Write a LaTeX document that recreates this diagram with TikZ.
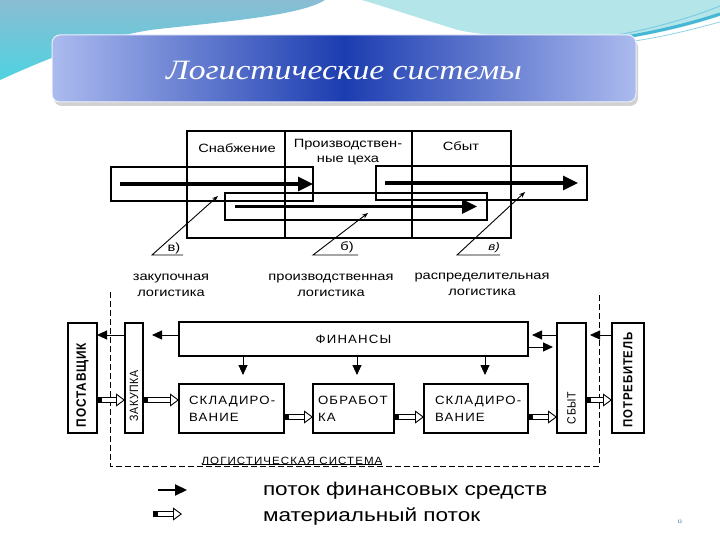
\documentclass[tikz,border=0pt]{standalone}
\usepackage{fontspec}
\usetikzlibrary{arrows.meta}
\newfontfamily\dfont{Liberation Sans}[FakeStretch=1.22]
\newfontfamily\capfont{Liberation Sans}[FakeStretch=1.1,LetterSpace=10]
\newfontfamily\rotfont{Liberation Sans}[FakeStretch=0.88,LetterSpace=6]
\newfontfamily\titlefont{Liberation Serif}[FakeStretch=1.2]
\definecolor{bandL}{HTML}{ABBAEE}
\definecolor{bandM}{HTML}{1C3DB0}
\definecolor{skyA}{HTML}{8ABDD3}
\definecolor{skyB}{HTML}{4FD2E0}
\definecolor{cyanL}{HTML}{B4E5E8}
\definecolor{strokeC}{HTML}{45B6D4}
\definecolor{pgnum}{HTML}{5A7AA0}
\begin{document}
\begin{tikzpicture}[x=1pt,y=-1pt,
  every node/.style={inner sep=0pt, outer sep=0pt},
  cell/.style={draw, line width=2.4pt, minimum width=#1, minimum height=107pt},
  hdr/.style={font=\dfont\fontsize{12}{15}\selectfont, align=center},
  band/.style={draw, line width=1.2pt},
  bigarr/.style={line width=3.2pt, -{Triangle[length=15pt,width=14pt]}},
  ptr/.style={line width=0.9pt, -{Stealth[length=6pt,width=4.5pt]}},
  box/.style={draw, line width=1.3pt},
  captxt/.style={font=\capfont\fontsize{12}{17}\selectfont, align=left},
  rottxt/.style={font=\rotfont\fontsize{12}{14}\selectfont, rotate=90},
  finarr/.style={line width=0.9pt, -{Triangle[length=10pt,width=9pt]}},
  matarr/.style={draw=white, line width=0.8pt, shorten <=4.5pt,
    -{Triangle[open,length=9pt,width=13pt,line width=0.9pt,color=black]},
    preaction={draw=black, arrows=-, line width=5.4pt, shorten >=9pt, shorten <=0pt},
    preaction={draw=white, arrows=-, line width=3.6pt, shorten >=9pt, shorten <=4.5pt}},
  dashline/.style={line width=1pt, dash pattern=on 6pt off 3pt}
]
\useasboundingbox (0,0) rectangle (720,540);
\fill[white] (0,0) rectangle (720,540);
% background swooshes
\shade[top color=skyA, bottom color=skyB] (0,0) -- (325,0) .. controls (300,16) and (220,22) .. (150,30) .. controls (90,40) and (40,62) .. (0,80) -- cycle;
\fill[cyanL] (362,0) -- (720,0) -- (720,16) .. controls (690,26) and (650,36) .. (610,40) .. controls (540,40) and (485,36) .. (458,30) .. controls (425,20) and (392,9) .. (362,0) -- cycle;
\draw[strokeC, line width=3pt] (720,14) .. controls (690,24) and (650,34) .. (595,42);
\draw[strokeC!70, line width=1pt] (720,6) .. controls (690,18) and (650,30) .. (600,38);
\draw[strokeC!60, line width=0.8pt] (720,22) .. controls (690,30) and (660,38) .. (620,43);
% banner
\fill[black!40, opacity=0.45, rounded corners=8pt] (54,39) rectangle (638,106);
\shade[rounded corners=8pt, left color=bandL, right color=bandL, middle color=bandM] (52,35) rectangle (636,102);
\draw[white!80!bandL, line width=1pt, rounded corners=8pt] (52,35) rectangle (636,102);
\node[text=white, font=\titlefont\itshape\fontsize{28}{30}\selectfont] (title) at (344,70) {Логистические системы};

% ===== top diagram =====
\node[cell=98pt] (c1) at (236,184.5) {};
\node[cell=127pt] (c2) at (348.5,184.5) {};
\node[cell=99pt] (c3) at (461.5,184.5) {};
\node[hdr] (h1) at (237,148) {Снабжение};
\node[hdr] (h2) at (348,152) {Производствен-\\ные цеха};
\node[hdr] (h3) at (461,146) {Сбыт};
\node[band, minimum width=202pt, minimum height=34pt] (b1) at (212,184) {};
\node[band, minimum width=262pt, minimum height=27pt] (b2) at (356,206.5) {};
\node[band, minimum width=211pt, minimum height=34pt] (b3) at (481.5,183) {};
\draw[bigarr] ([xshift=9pt]b1.west) -- (b1.east);
\draw[bigarr] ([xshift=10pt]b2.west) -- ([xshift=-10pt]b2.east);
\draw[bigarr] ([xshift=9pt]b3.west) -- ([xshift=-9pt]b3.east);
\coordinate (pa1) at (152,255); \coordinate (pa2) at (183,255); \coordinate (pat) at (218,196);
\coordinate (pb1) at (313,255); \coordinate (pb2) at (358,255); \coordinate (pbt) at (368,213);
\coordinate (pc1) at (457,255); \coordinate (pc2) at (500,255); \coordinate (pct) at (525,192);
\draw[ptr] (pa2) -- (pa1) -- (pat);
\draw[ptr] (pb2) -- (pb1) -- (pbt);
\draw[ptr] (pc2) -- (pc1) -- (pct);
\node[hdr] (la) at (174,248) {в)};
\node[hdr] (lb) at (347,247) {б)};
\node[hdr, font=\dfont\itshape\fontsize{11}{13}\selectfont] (lc) at (494,248) {в)};
\node[hdr, font=\dfont\fontsize{12}{16}\selectfont] (t1) at (171,285) {закупочная\\логистика};
\node[hdr, font=\dfont\fontsize{12}{16}\selectfont] (t2) at (331,285) {производственная\\логистика};
\node[hdr, font=\dfont\fontsize{12}{16}\selectfont] (t3) at (482,284) {распределительная\\логистика};

% ===== bottom diagram =====
\coordinate (d1) at (110,292); \coordinate (d2) at (110,466);
\coordinate (d3) at (599,466); \coordinate (d4) at (599,292);
\draw[dashline] (d1) -- (d2) -- (d3) -- (d4);
\node[box, minimum width=29pt, minimum height=110pt] (post) at (82.5,378) {};
\node[box, minimum width=18pt, minimum height=110pt] (zak) at (134,378) {};
\node[box, minimum width=349pt, minimum height=34pt] (fin) at (353.5,339) {};
\node[box, minimum width=105pt, minimum height=49pt] (sk1) at (231.5,408.5) {};
\node[box, minimum width=81pt, minimum height=49pt] (obr) at (353.5,408.5) {};
\node[box, minimum width=104pt, minimum height=49pt] (sk2) at (476,408.5) {};
\node[box, minimum width=29pt, minimum height=110pt] (sbyt) at (571.5,378) {};
\node[box, minimum width=32pt, minimum height=110pt] (potr) at (628,378) {};
\node[rottxt, font=\rotfont\bfseries\fontsize{13.5}{14}\selectfont] (postt) at ([yshift=-7pt]post.center) {ПОСТАВЩИК};
\node[rottxt] (zakt) at ([yshift=-18pt]zak.center) {ЗАКУПКА};
\node[rottxt] (sbytt) at ([yshift=-30pt]sbyt.center) {СБЫТ};
\node[rottxt, font=\rotfont\bfseries\fontsize{13}{14}\selectfont] (potrt) at ([yshift=-2pt]potr.center) {ПОТРЕБИТЕЛЬ};
\node[captxt] (fint) at (fin.center) {ФИНАНСЫ};
\node[captxt, anchor=west] (sk1t) at ([xshift=10pt]sk1.west) {СКЛАДИРО-\\ВАНИЕ};
\node[captxt, anchor=west] (obrt) at ([xshift=5pt]obr.west) {ОБРАБОТ\\КА};
\node[captxt, anchor=west] (sk2t) at ([xshift=11pt]sk2.west) {СКЛАДИРО-\\ВАНИЕ};
\node[font=\capfont\fontsize{10.5}{12}\selectfont, anchor=base] (lst) at (292,464) {ЛОГИСТИЧЕСКАЯ СИСТЕМА};
\draw[line width=0.9pt] (lst.south west) -- (lst.south east);
% financial flows
\draw[finarr, shorten >=9pt] ([yshift=4pt]fin.west) -- ([yshift=4pt]fin.west -| zak.east);
\draw[finarr] ([yshift=43pt]zak.west) -- ([yshift=43pt]post.east);
\draw[finarr, shorten >=9pt] ([xshift=-110.5pt]fin.south) -- ([xshift=-110.5pt]fin.south |- sk1.north);
\draw[finarr, shorten >=9pt] ([xshift=3.5pt]fin.south) -- ([xshift=3.5pt]fin.south |- obr.north);
\draw[finarr, shorten >=9pt] ([xshift=131.5pt]fin.south) -- ([xshift=131.5pt]fin.south |- sk2.north);
\draw[finarr, shorten >=4pt] ([yshift=43pt]sbyt.west) -- ([yshift=43pt]sbyt.west -| fin.east);
\draw[finarr, shorten >=4pt] ([yshift=-8pt]fin.east) -- ([yshift=-8pt]fin.east -| sbyt.west);
\draw[finarr, shorten >=4pt] ([yshift=43pt]potr.west) -- ([yshift=43pt]sbyt.east);
% material flows
\draw[matarr] ([yshift=-22pt]post.east) -- ([yshift=-22pt]zak.west);
\draw[matarr] ([yshift=-22pt]zak.east) -- ([yshift=-22pt]zak.east -| sk1.west);
\draw[matarr] ([yshift=-8.5pt]sk1.east) -- ([yshift=-8.5pt]obr.west);
\draw[matarr] ([yshift=-8.5pt]obr.east) -- ([yshift=-8.5pt]sk2.west);
\draw[matarr] ([yshift=-8.5pt]sk2.east) -- ([yshift=-8.5pt]sk2.east -| sbyt.west);
\draw[matarr] ([yshift=-22pt]sbyt.east) -- ([yshift=-22pt]potr.west);
% legend
\coordinate (lg1) at (158,490); \coordinate (lg2) at (187,490);
\coordinate (lg3) at (153,514); \coordinate (lg4) at (182,514);
\draw[line width=2.2pt, -{Triangle[length=12pt,width=11pt]}] (lg1) -- (lg2);
\draw[matarr] (lg3) -- (lg4);
\node[font=\dfont\fontsize{18.5}{20}\selectfont, anchor=base west] (lgt1) at (263,495) {поток финансовых средств};
\node[font=\dfont\fontsize{18.5}{20}\selectfont, anchor=base west] (lgt2) at (263,521) {материальный поток};
\node[font=\dfont\fontsize{6}{7}\selectfont, text=pgnum] (pg) at (680,521) {ü};
\end{tikzpicture}
\end{document}
